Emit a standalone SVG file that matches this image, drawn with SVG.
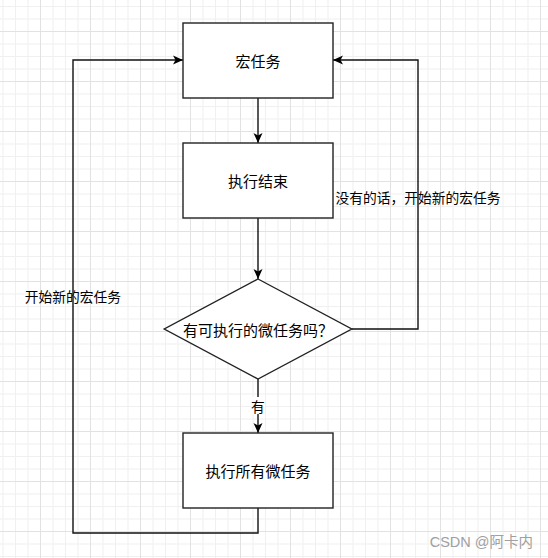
<svg xmlns="http://www.w3.org/2000/svg" width="548" height="558" viewBox="0 0 548 558">
<style>
.box{fill:#fff;stroke:#222;stroke-width:1.4}
.t{font-family:"Noto Sans CJK SC","Liberation Sans",sans-serif;font-size:15px;fill:#000;text-anchor:middle;dominant-baseline:central}
.lbl{font-family:"Noto Sans CJK SC","Liberation Sans",sans-serif;font-size:13.75px;fill:#000;text-anchor:middle;dominant-baseline:central}
.e{fill:none;stroke:#111;stroke-width:1.4}
</style>
<defs>
<pattern id="grid" patternUnits="userSpaceOnUse" x="40" y="31" width="50" height="50">
<rect x="12.5" y="0" width="1" height="50" fill="#f0f0f0"/>
<rect x="25" y="0" width="1" height="50" fill="#f0f0f0"/>
<rect x="37.5" y="0" width="1" height="50" fill="#f0f0f0"/>
<rect x="0" y="12.5" width="50" height="1" fill="#f0f0f0"/>
<rect x="0" y="25" width="50" height="1" fill="#f0f0f0"/>
<rect x="0" y="37.5" width="50" height="1" fill="#f0f0f0"/>
<rect x="0" y="0" width="1" height="50" fill="#e2e2e2"/>
<rect x="0" y="0" width="50" height="1" fill="#e2e2e2"/>
</pattern>
<marker id="arr" markerUnits="userSpaceOnUse" markerWidth="12" markerHeight="12" viewBox="-1 -6 12 12" refX="10" refY="0" orient="auto">
<path d="M0,-4.5 L10,0 L0,4.5 L2.5,0 Z" fill="#000"/>
</marker>
</defs>
<rect width="548" height="558" fill="#fff"/>
<rect width="548" height="558" fill="url(#grid)"/>
<g id="connectors">
<path class="e" d="M258,98 V143" marker-end="url(#arr)"/>
<path class="e" d="M258,218 V279" marker-end="url(#arr)"/>
<path class="e" d="M258,379 V433" marker-end="url(#arr)"/>
<path class="e" d="M351.75,329 H418 V60 H333" marker-end="url(#arr)"/>
<path class="e" d="M258,508 V533 H73 V60 H183" marker-end="url(#arr)"/>
<rect x="251" y="397" width="14" height="17" fill="#fff"/>
<text class="lbl" x="258" y="405.5">有</text>
<text class="lbl" x="418" y="196.5">没有的话，开始新的宏任务</text>
<text class="lbl" x="73" y="296">开始新的宏任务</text>
</g>
<g id="macro">
<rect class="box" x="183" y="23" width="150" height="75"/>
<text class="t" x="258" y="60.5">宏任务</text>
</g>
<g id="done">
<rect class="box" x="183" y="143" width="150" height="75"/>
<text class="t" x="258" y="180.5">执行结束</text>
</g>
<g id="decision">
<path class="box" d="M258,279 L351.75,329 L258,379 L164.25,329 Z"/>
<text class="t" x="258" y="329.5">有可执行的微任务吗？</text>
</g>
<g id="micro">
<rect class="box" x="183" y="433" width="150" height="75"/>
<text class="t" x="258" y="470.5">执行所有微任务</text>
</g>
<text x="533" y="542" font-family="'Liberation Sans','Noto Sans CJK SC',sans-serif" font-size="14.5" fill="#a0a0a0" text-anchor="end" dominant-baseline="central">CSDN @阿卡内</text>
</svg>
